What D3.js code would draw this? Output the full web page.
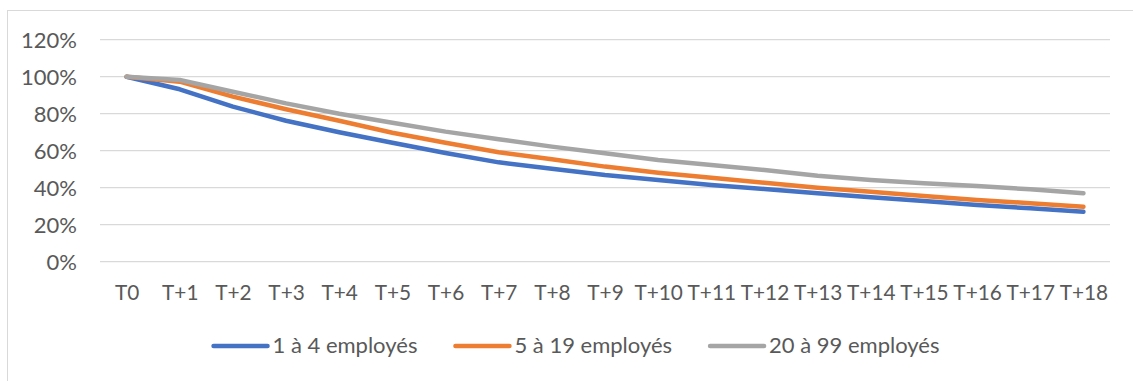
<!DOCTYPE html>
<html><head><meta charset="utf-8">
<script src="https://cdn.jsdelivr.net/npm/d3@7"></script>
<style>body{margin:0;background:#fff}svg{display:block}text{font-family:Lato,"Open Sans",sans-serif;fill:#595959}</style>
</head><body><svg id="c" width="1133" height="381"></svg>
<script>
const categories = ["T0","T+1","T+2","T+3","T+4","T+5","T+6","T+7","T+8","T+9","T+10","T+11","T+12","T+13","T+14","T+15","T+16","T+17","T+18"];
const seriesNames = ["1 à 4 employés","5 à 19 employés","20 à 99 employés"];
const small = [1.00,0.932,0.838,0.762,0.700,0.643,0.588,0.537,0.503,0.469,0.442,0.415,0.393,0.370,0.348,0.328,0.306,0.289,0.270];
const medium = [1.00,0.973,0.892,0.824,0.762,0.697,0.643,0.592,0.554,0.514,0.481,0.454,0.427,0.400,0.378,0.355,0.334,0.316,0.297];
const large = [1.00,0.982,0.919,0.856,0.800,0.751,0.703,0.662,0.622,0.586,0.550,0.523,0.496,0.465,0.442,0.424,0.409,0.391,0.370];
const yTicks = [0,0.2,0.4,0.6,0.8,1.0,1.2];
const colors = ["#4472C4","#ED7D31","#A5A5A5"];
const values = [small, medium, large];
const FS = 22;

const svg = d3.select("#c");
svg.append("rect").attr("x",7.5).attr("y",10.5).attr("width",1200).attr("height",500)
  .attr("fill","none").attr("stroke","#D9D9D9").attr("stroke-width",1);

const x = d3.scalePoint().domain(categories).range([100,1110]).padding(0.5);
const y = d3.scaleLinear().domain([0,1.2]).range([261.7,39.7]);

// gridlines
svg.append("g").selectAll("line").data(yTicks).join("line")
  .attr("x1",100).attr("x2",1110).attr("y1",d=>y(d)).attr("y2",d=>y(d))
  .attr("stroke","#D9D9D9").attr("stroke-width",1.3);

// y axis
const yAxis = d3.axisLeft(y).tickValues(yTicks).tickFormat(d3.format(".0%")).tickSize(0).tickPadding(0);
const ga = svg.append("g").attr("transform","translate(77,0)").call(yAxis);
ga.select(".domain").remove();
ga.selectAll("text").attr("font-size",FS).attr("font-family","Lato").attr("fill","#595959").attr("dy","0.35em");

// x axis
const xAxis = d3.axisBottom(x).tickSize(0).tickPadding(0);
const gx = svg.append("g").attr("transform","translate(0,300)").call(xAxis);
gx.select(".domain").remove();
gx.selectAll("text").attr("font-size",20.8).attr("font-family","Lato").attr("fill","#595959").attr("dy","0");

// lines
const line = d3.line().x((d,i)=>x(categories[i])).y(d=>y(d));
values.forEach((vals,k)=>{
  svg.append("path").datum(vals).attr("d",line).attr("fill","none")
    .attr("stroke",colors[k]).attr("stroke-width",4.5)
    .attr("stroke-linecap","round").attr("stroke-linejoin","round");
});

// legend
const lg = svg.append("g");
let cx = 0;
seriesNames.forEach((n,k)=>{
  const g = lg.append("g");
  g.append("line").attr("x1",0).attr("x2",54).attr("y1",346).attr("y2",346)
    .attr("stroke",colors[k]).attr("stroke-width",4.5).attr("stroke-linecap","round");
  const t = g.append("text").attr("x",59).attr("y",353).attr("font-size",FS).text(n);
  const w = t.node().getComputedTextLength();
  g.attr("transform",`translate(${cx},0)`);
  cx += 59 + w + 38;
});
const total = cx - 38;
lg.attr("transform",`translate(${576.5 - total/2},0)`);
</script></body></html>
